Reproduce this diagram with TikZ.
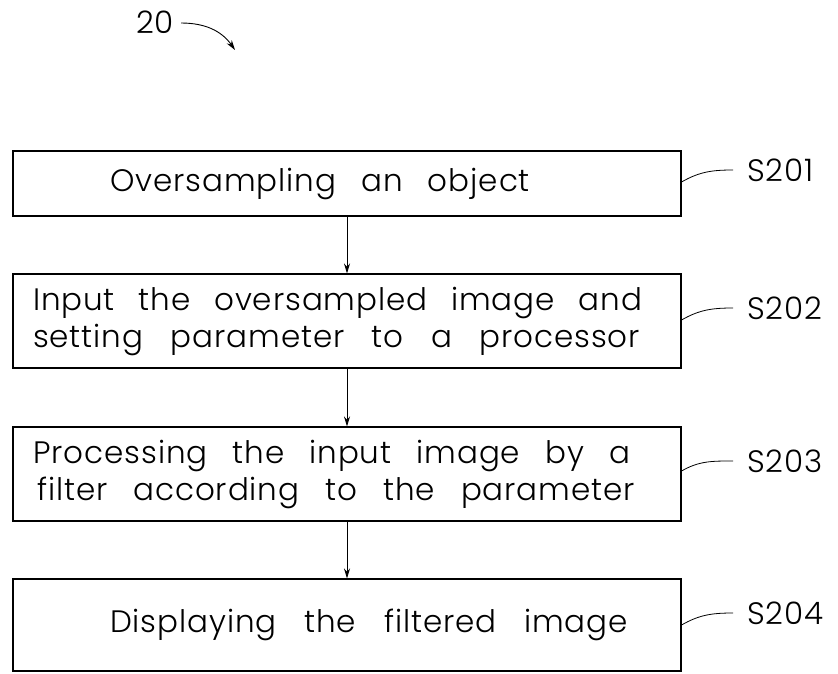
\documentclass[tikz,border=0pt]{standalone}
\usepackage{fontspec}
\setmainfont{Poppins Light}[LetterSpace=3]
\usetikzlibrary{arrows.meta}
\newcommand\fitline[2]{\makebox[#1][s]{#2}}
\begin{document}
\begin{tikzpicture}[x=1pt,y=-1pt,
  font=\fontsize{31}{37}\selectfont,
  box/.style={draw, line width=1.1pt, minimum width=668pt, inner sep=0pt, align=left},
  flow/.style={-{Stealth[length=10pt,width=6pt]}, line width=0.9pt},
  lead/.style={line width=0.8pt},
  lbl/.style={inner sep=0pt, anchor=west}]
\useasboundingbox (0,0) rectangle (838,673);
\node[box, minimum height=65pt] (b1) at (347,183.5)
  {\makebox[668pt][l]{\hspace{97pt}\fitline{420pt}{Oversampling an object}}};
\node[box, minimum height=94pt] (b2) at (347,321)
  {\makebox[668pt][l]{\hspace{20pt}\fitline{609pt}{Input the oversampled image and}}\\
   \makebox[668pt][l]{\hspace{20pt}\fitline{607pt}{setting parameter to a processor}}};
\node[box, minimum height=94pt] (b3) at (347,474)
  {\makebox[668pt][l]{\hspace{20pt}\fitline{597pt}{Processing the input image by a}}\\
   \makebox[668pt][l]{\hspace{24pt}\fitline{598pt}{filter according to the parameter}}};
\node[box, minimum height=92pt] (b4) at (347,625)
  {\makebox[668pt][l]{\hspace{97pt}\fitline{518pt}{Displaying the filtered image}}};
\draw[flow] (b1.south) -- (b2.north);
\draw[flow] (b2.south) -- (b3.north);
\draw[flow] (b3.south) -- (b4.north);
\node[lbl] (l1) at (747,170) {S201};
\node[lbl] (l2) at (747,308) {S202};
\node[lbl] (l3) at (747,461) {S203};
\node[lbl] (l4) at (747,613) {S204};
\draw[lead] ([yshift=1.5pt]b1.east) to[out=30,in=180] ([xshift=-14pt]l1.west);
\draw[lead] ([yshift=1pt]b2.east) to[out=30,in=180] ([xshift=-14pt]l2.west);
\draw[lead] ([yshift=3pt]b3.east) to[out=30,in=180] ([xshift=-14pt]l3.west);
\draw[lead] (b4.east) to[out=30,in=180] ([xshift=-14pt]l4.west);
\node[inner sep=0pt] (n20) at (155,22) {20};
\coordinate (a20) at (235,50);
\draw[flow] ([xshift=7pt,yshift=-1pt]n20.east) to[out=0,in=125] (a20);
\end{tikzpicture}
\end{document}
